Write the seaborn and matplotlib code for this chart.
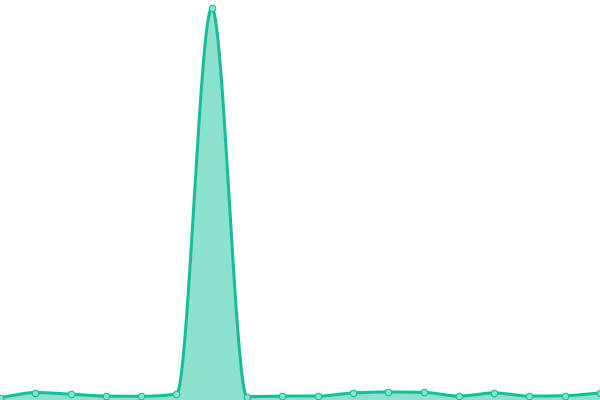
import numpy as np
import pandas as pd
import matplotlib
matplotlib.use("Agg")
import matplotlib.pyplot as plt
import seaborn as sns

# Values (peak scaled to 100)
idx = list(range(18))
values = [0.6, 1.9, 1.5, 1.0, 0.95, 1.5, 100.0, 0.85, 1.0, 1.0,
          1.8, 2.05, 1.95, 1.0, 1.8, 1.0, 1.1, 1.8]

line_color = "#1bbc9b"
fill_color = "#8de1cf"


def pchip(x, y, xs):
    # monotone cubic interpolation (Fritsch-Carlson)
    x = np.asarray(x, float)
    y = np.asarray(y, float)
    h = np.diff(x)
    d = np.diff(y) / h
    m = np.zeros_like(y)
    for k in range(1, len(y) - 1):
        if d[k - 1] * d[k] > 0:
            w1 = 2 * h[k] + h[k - 1]
            w2 = h[k] + 2 * h[k - 1]
            m[k] = (w1 + w2) / (w1 / d[k - 1] + w2 / d[k])
    m[0] = d[0]
    m[-1] = d[-1]
    k = np.clip(np.searchsorted(x, xs) - 1, 0, len(x) - 2)
    t = (xs - x[k]) / h[k]
    h00 = 2 * t**3 - 3 * t**2 + 1
    h10 = t**3 - 2 * t**2 + t
    h01 = -2 * t**3 + 3 * t**2
    h11 = t**3 - t**2
    return h00 * y[k] + h10 * h[k] * m[k] + h01 * y[k + 1] + h11 * h[k] * m[k + 1]


xs = np.linspace(0, len(idx) - 1, 1200)
ys = pchip(idx, values, xs)
smooth = pd.DataFrame({"x": xs, "y": ys})
pts = pd.DataFrame({"x": idx, "y": values})

sns.set_style("white")
fig = plt.figure(figsize=(6, 4), dpi=100)
ax = fig.add_axes([0, 0, 1, 1])

ax.fill_between(xs, 0, ys, color=fill_color, lw=0, zorder=1)
sns.lineplot(data=smooth, x="x", y="y", color=line_color, lw=2.2, ax=ax, zorder=2)
sns.scatterplot(data=pts, x="x", y="y", s=22, color=fill_color, edgecolor=line_color,
                linewidth=0.8, ax=ax, zorder=3, clip_on=False)

ax.set_xlim(0, len(idx) - 1)
ax.set_ylim(0, max(values) * 400 / 392)
ax.axis("off")

fig.savefig("out.png", dpi=100)
